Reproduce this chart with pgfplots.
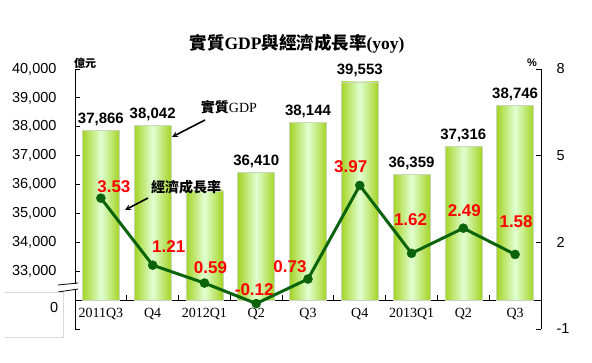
\documentclass[border=0pt]{standalone}
\usepackage{fontspec}
\setmainfont{Liberation Sans}
\newfontfamily\tnr{Liberation Serif}
\newfontfamily\cjk{Noto Sans CJK TC}
\usepackage{pgfplots}
\usepackage{pgfplotstable}
\pgfplotsset{compat=1.18}
\definecolor{barEdge}{HTML}{A4D424}
\definecolor{barMid}{HTML}{E0FFD2}
\definecolor{barBorder}{HTML}{C9D6BD}
\definecolor{lineGreen}{HTML}{0B640B}

\pgfplotstableread{
x gdp lab
0 37866 37,866
1 38042 38,042
2 35780 {}
3 36410 36,410
4 38144 38,144
5 39553 39,553
6 36359 36,359
7 37316 37,316
8 38746 38,746
}\gdptab

\pgfplotstableread{
x y lab dx dy
0 3.53 3.53 13 11
1 1.21 1.21 16 19
2 0.59 0.59 6 15
3 -0.12 -0.12 -2 14
4 0.73 0.73 -18 12
5 3.97 3.97 -9 19
6 1.62 1.62 -1 34
7 2.49 2.49 1 18
8 1.58 1.58 1 33
}\growthtab

\begin{document}
\begin{tikzpicture}[x=1pt,y=1pt]
\useasboundingbox (0,0) rectangle (592,363);
\begin{axis}[
  at={(75pt,34pt)}, anchor=south west,
  scale only axis, width=466pt, height=260pt,
  xmin=-0.5, xmax=8.5, ymin=-1, ymax=8,
  axis x line=middle, axis y line=left,
  axis line style={-, black, line width=0.8pt},
  tick align=inside, major tick length=5pt,
  xtick={0,...,8},
  xticklabels={2011Q3,Q4,2012Q1,Q2,Q3,Q4,2013Q1,Q2,Q3},
  xtick style={draw=none},
  xticklabel style={font=\tnr\fontsize{14}{16}\selectfont, yshift=-5pt},
  ytick={-1,0,...,8},
  yticklabels={{},{},{33,000},{34,000},{35,000},{36,000},{37,000},{38,000},{39,000},{40,000}},
  yticklabel style={font=\fontsize{14.5}{16}\selectfont, xshift=-15pt},
  ytick style={black, line width=0.8pt},
  clip=false,
]
\pgfplotsinvokeforeach{0,...,8}{
\addplot[ybar, bar width=37pt, bar shift=0pt, draw=barBorder, line width=0.6pt,
  left color=barEdge, right color=barEdge, middle color=barMid,
  x filter/.expression={abs(x-#1)<0.1 ? x : nan},
  nodes near coords, point meta=explicit symbolic,
  every node near coord/.append style={font=\bfseries\fontsize{15}{17}\selectfont, text=black, yshift=1pt}]
  table[x=x, y expr=(\thisrow{gdp}-32000)/1000, meta=lab]{\gdptab};
}
\pgfplotsinvokeforeach{0.5,1.5,2.5,3.5,4.5,5.5,6.5,7.5}{
  \draw[black, line width=0.8pt] (axis cs:#1,0) -- ++(0pt,5pt);
}
\end{axis}
\begin{axis}[
  at={(75pt,34pt)}, anchor=south west,
  scale only axis, width=466pt, height=260pt,
  xmin=-0.5, xmax=8.5, ymin=-1, ymax=8,
  axis y line*=right, axis x line=none,
  axis line style={-, black, line width=0.8pt},
  tick align=inside, major tick length=5pt,
  ytick={-1,2,5,8}, yticklabels={-1,2,5,8},
  yticklabel style={font=\fontsize{14.5}{16}\selectfont, xshift=12pt},
  ytick style={black, line width=0.8pt},
  clip=false,
]
\addplot[lineGreen, line width=3pt, mark=*, mark size=4.5pt,
  mark options={solid, line width=0.5pt, fill=lineGreen},
  nodes near coords, point meta=explicit symbolic,
  visualization depends on={\thisrow{dx}\as\dx},
  visualization depends on={\thisrow{dy}\as\dy},
  every node near coord/.append style={anchor=center, xshift=\dx pt, yshift=\dy pt,
    font=\bfseries\fontsize{17}{19}\selectfont, text=red}]
  table[x=x, y=y, meta=lab]{\growthtab};
\end{axis}
% axis break and the "0" label
\fill[white] (56,71.5) -- (80,74.5) -- (80,79.5) -- (56,77.5) -- cycle;
\draw[black, line width=0.8pt] (58,78) -- (78,80);
\draw[black, line width=0.8pt] (58,71) -- (78,74);
\draw[black!15, line width=0.6pt] (5,71) -- (63,71) -- (63,26) -- (5,26);
\node[anchor=east, inner sep=0pt, font=\fontsize{14.5}{16}\selectfont] at (58.5,55) {0};
% title
\node[font=\bfseries\fontsize{17.5}{20}\selectfont] at (297,319.5)
  {{\cjk 實質}{\tnr GDP}{\cjk 與經濟成長率}{\tnr (yoy)}};
% unit labels
\node[font=\cjk\bfseries\fontsize{11}{13}\selectfont] at (85,300) {億元};
\node[font=\bfseries\fontsize{11}{13}\selectfont] at (532,300) {\%};
% annotations
\node[font=\bfseries\fontsize{14}{16}\selectfont] at (229,256) {{\cjk 實質}{\tnr\mdseries GDP}};
\draw[-stealth, line width=1.6pt] (205,243) -- (172,226);
\node[font=\cjk\bfseries\fontsize{14}{16}\selectfont] at (186,176) {經濟成長率};
\draw[-stealth, line width=1.6pt] (148,165) -- (125,153);
\end{tikzpicture}
\end{document}
